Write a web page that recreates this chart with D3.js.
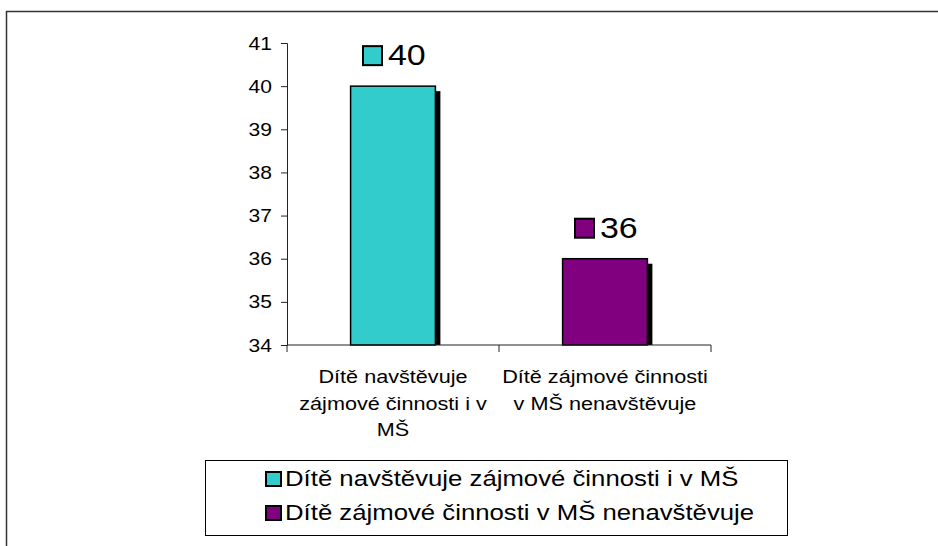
<!DOCTYPE html>
<html>
<head>
<meta charset="utf-8">
<script src="https://cdn.jsdelivr.net/npm/d3@7"></script>
<style>
  body { margin: 0; background: #fff; }
  text { font-family: "Liberation Sans", Arial, sans-serif; fill: #000; }
</style>
</head>
<body>
<div id="chart"></div>
<script>
// chart data
const categories = [
  ["Dítě navštěvuje", "zájmové činnosti i v", "MŠ"],
  ["Dítě zájmové činnosti", "v MŠ nenavštěvuje"]
];
const legendLabels = [
  "Dítě navštěvuje zájmové činnosti i v MŠ",
  "Dítě zájmové činnosti v MŠ nenavštěvuje"
];
const values = [40, 36];
const colors = ["#33CCCC", "#800080"];
const yTicks = [34, 35, 36, 37, 38, 39, 40, 41];

const W = 938, H = 546;
const stretch = 1.17; // text in the source is a bit wide

const svg = d3.select("#chart").append("svg")
  .attr("width", W)
  .attr("height", H);

// outer frame
svg.append("rect")
  .attr("x", 6.5).attr("y", 11.5)
  .attr("width", 960).attr("height", 560)
  .attr("fill", "none")
  .attr("stroke", "#333")
  .attr("stroke-width", 1.5);

const plot = { left: 287, right: 711, top: 43, bottom: 345 };

const x = d3.scaleBand()
  .domain(d3.range(values.length))
  .range([plot.left, plot.right])
  .paddingInner(0.6)
  .paddingOuter(0.3);

const y = d3.scaleLinear()
  .domain([34, 41])
  .range([plot.bottom, plot.top]);

// helper: text with a small horizontal stretch
function wideText(g, tx, ty, str, size, anchor) {
  return g.append("text")
    .attr("transform", `translate(${tx},${ty}) scale(${stretch},1)`)
    .attr("font-size", size)
    .attr("text-anchor", anchor || "start")
    .text(str);
}

// y axis
const yAxis = svg.append("g")
  .attr("transform", `translate(${plot.left},0)`)
  .call(d3.axisLeft(y).tickValues(yTicks).tickSize(6).tickFormat(""));
yAxis.selectAll("path, line").attr("stroke", "#222");
yTicks.forEach(t => {
  wideText(svg, plot.left - 15, y(t) + 6.5, t, 18, "end");
});

// bars: shadow first, then bar
const bars = svg.append("g");
values.forEach((v, i) => {
  bars.append("rect")
    .attr("x", x(i) + 5)
    .attr("y", y(v) + 5)
    .attr("width", x.bandwidth())
    .attr("height", y(34) - y(v) - 5)
    .attr("fill", "#000");
  bars.append("rect")
    .attr("x", x(i))
    .attr("y", y(v))
    .attr("width", x.bandwidth())
    .attr("height", y(34) - y(v))
    .attr("fill", colors[i])
    .attr("stroke", "#000")
    .attr("stroke-width", 1.5);
});

// x axis (drawn over bar bottoms)
const xAxisLine = svg.append("g");
xAxisLine.append("line")
  .attr("x1", plot.left).attr("x2", plot.right)
  .attr("y1", plot.bottom).attr("y2", plot.bottom)
  .attr("stroke", "#222");
const xEdges = [plot.left, (plot.left + plot.right) / 2, plot.right];
xEdges.forEach(px => {
  xAxisLine.append("line")
    .attr("x1", px).attr("x2", px)
    .attr("y1", plot.bottom).attr("y2", plot.bottom + 7)
    .attr("stroke", "#222");
});

// category labels
categories.forEach((lines, i) => {
  const cx = x(i) + x.bandwidth() / 2;
  lines.forEach((ln, j) => {
    wideText(svg, cx, 383 + j * 26.5, ln, 18.5, "middle");
  });
});

// value labels with legend key
values.forEach((v, i) => {
  const cx = x(i) + x.bandwidth() / 2;
  const top = y(v) - 21;
  svg.append("rect")
    .attr("x", cx - 30).attr("y", top - 19)
    .attr("width", 19).attr("height", 19)
    .attr("fill", colors[i])
    .attr("stroke", "#000")
    .attr("stroke-width", 2);
  wideText(svg, cx - 5, top, v, 29, "start");
});

// legend
const legend = svg.append("g");
legend.append("rect")
  .attr("x", 205.5).attr("y", 460.5)
  .attr("width", 582).attr("height", 75)
  .attr("fill", "#fff")
  .attr("stroke", "#000");
legendLabels.forEach((lab, i) => {
  const by = 486 + i * 34;
  legend.append("rect")
    .attr("x", 266).attr("y", by - 14)
    .attr("width", 15).attr("height", 14)
    .attr("fill", colors[i])
    .attr("stroke", "#000")
    .attr("stroke-width", 2);
  wideText(legend, 285, by, lab, 22, "start");
});
</script>
</body>
</html>
